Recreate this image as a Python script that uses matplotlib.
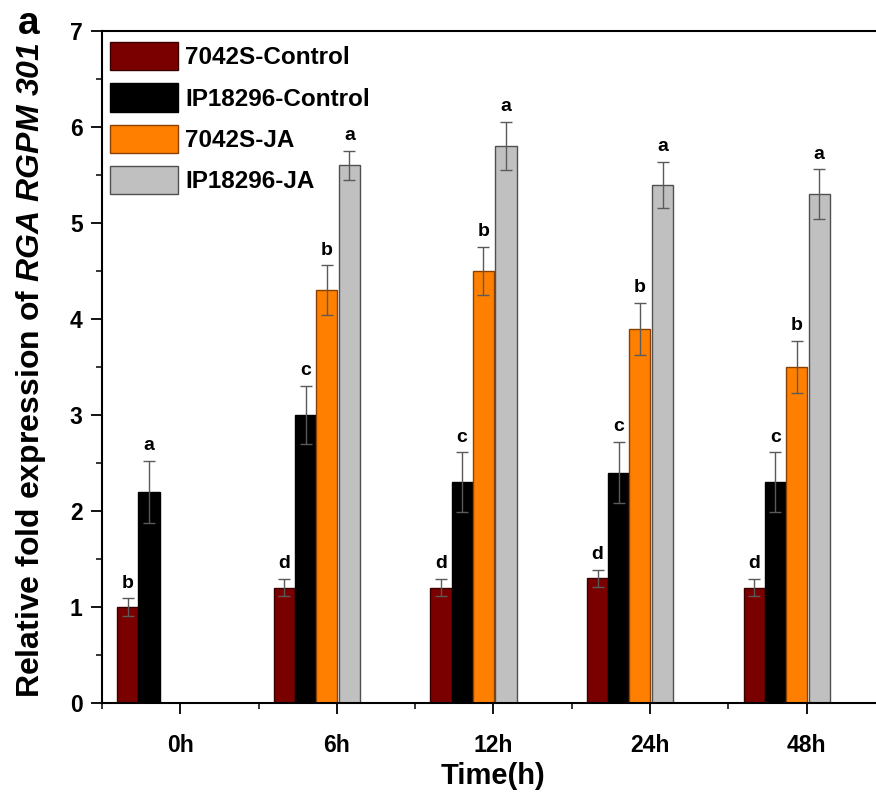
import numpy as np
import matplotlib
matplotlib.use("Agg")
import matplotlib.pyplot as plt
from matplotlib.ticker import MultipleLocator, FixedLocator

plt.rcParams['font.family'] = ['Liberation Sans', 'DejaVu Sans']
plt.rcParams['font.weight'] = 'bold'
plt.rcParams['mathtext.fontset'] = 'custom'
plt.rcParams['mathtext.it'] = 'Liberation Sans:italic:bold'
plt.rcParams['mathtext.rm'] = 'Liberation Sans:italic:bold'

# data
times = ['0h', '6h', '12h', '24h', '48h']
series = ['7042S-Control', 'IP18296-Control', '7042S-JA', 'IP18296-JA']

ctrl_7042 = [1.0, 1.2, 1.2, 1.3, 1.2]
ctrl_7042_err = [0.09, 0.09, 0.09, 0.09, 0.09]
ctrl_ip = [2.2, 3.0, 2.3, 2.4, 2.3]
ctrl_ip_err = [0.32, 0.30, 0.31, 0.32, 0.31]
ja_7042 = [np.nan, 4.3, 4.5, 3.9, 3.5]
ja_7042_err = [np.nan, 0.26, 0.25, 0.27, 0.27]
ja_ip = [np.nan, 5.6, 5.8, 5.4, 5.3]
ja_ip_err = [np.nan, 0.15, 0.25, 0.24, 0.26]

letters_7042_ctrl = ['b', 'd', 'd', 'd', 'd']
letters_ip_ctrl = ['a', 'c', 'c', 'c', 'c']
letters_7042_ja = ['', 'b', 'b', 'b', 'b']
letters_ip_ja = ['', 'a', 'a', 'a', 'a']

values = [ctrl_7042, ctrl_ip, ja_7042, ja_ip]
errors = [ctrl_7042_err, ctrl_ip_err, ja_7042_err, ja_ip_err]
letters = [letters_7042_ctrl, letters_ip_ctrl, letters_7042_ja, letters_ip_ja]

colors = ['#7a0000', '#000000', '#ff8000', '#c0c0c0']
edges = ['#3a0000', '#000000', '#8a4000', '#505050']
offsets = [-0.335, -0.2, -0.065, 0.08]
width = 0.135

fig = plt.figure(figsize=(8.76, 7.94), dpi=100)
ax = fig.add_axes([102 / 876, 91 / 794, 783 / 876, 672 / 794])

x = np.arange(1, len(times) + 1)
for i in range(4):
    v = np.array(values[i], dtype=float)
    e = np.array(errors[i], dtype=float)
    ax.bar(x + offsets[i], v, width, color=colors[i], edgecolor=edges[i],
           linewidth=1.0, label=series[i], zorder=2)
    ax.errorbar(x + offsets[i], v, yerr=e, fmt='none', ecolor='#5a5a5a',
                elinewidth=1.0, capsize=4, capthick=1.0, zorder=3)
    for j in range(len(times)):
        if letters[i][j] and not np.isnan(v[j]):
            ax.text(x[j] + offsets[i], v[j] + e[j] + 0.07, letters[i][j],
                    ha='center', va='bottom', fontsize=14, fontweight='bold')

ax.set_xlim(0.5, 5.5)
ax.set_ylim(0, 7)
ax.set_xticks(x)
ax.set_xticklabels(times)
ax.xaxis.set_minor_locator(FixedLocator(np.arange(0.5, 6.0, 1.0)))
ax.yaxis.set_major_locator(MultipleLocator(1))
ax.yaxis.set_minor_locator(MultipleLocator(0.5))
ax.tick_params(which='major', direction='out', length=8, width=1.3, labelsize=16.5)
ax.tick_params(which='minor', direction='out', length=4, width=1.1)
ax.tick_params(axis='x', pad=14)
ax.tick_params(axis='y', pad=6)
for s in ax.spines.values():
    s.set_linewidth(1.5)
ax.spines['right'].set_visible(False)

ax.set_xlabel('Time(h)', fontsize=21, fontweight='bold', labelpad=4)
ax.set_ylabel(r'Relative fold expression of $RGA\ RGPM\ 301$',
              fontsize=23, fontweight='bold')
ax.yaxis.set_label_coords(-54 / 783, 0.495)

ax.legend(loc='upper left', bbox_to_anchor=(8 / 783, (703 - 42) / 672),
          frameon=False, handlelength=2.8, handleheight=1.4,
          handletextpad=0.3, labelspacing=0.55, borderpad=0, borderaxespad=0,
          prop={'weight': 'bold', 'size': 17.5})

fig.text(18 / 876, 1 - 6 / 794, 'a', fontsize=28, fontweight='bold',
         ha='left', va='top')

fig.savefig('out.png', dpi=100)
